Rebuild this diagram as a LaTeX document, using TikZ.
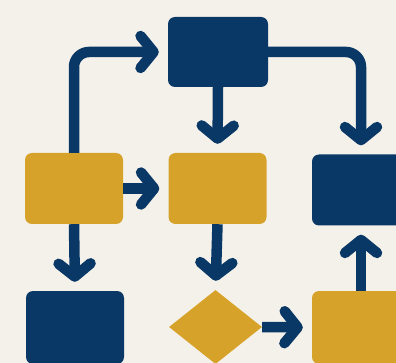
\documentclass[tikz,border=0pt]{standalone}
\usetikzlibrary{arrows.meta,shapes.geometric}
\definecolor{navy}{HTML}{0A3866}
\definecolor{gold}{HTML}{D7A22A}
\definecolor{paper}{HTML}{F4F1EA}
\begin{document}
\begin{tikzpicture}[x=1pt,y=-1pt,
  block/.style={rectangle, rounded corners=7pt, inner sep=0pt,
    minimum width=98pt, minimum height=71pt},
  navyblock/.style={block, fill=navy},
  goldblock/.style={block, fill=gold},
  decision/.style={diamond, fill=gold, inner sep=0pt,
    minimum width=93pt, minimum height=74pt},
  flow/.style={draw=navy, line width=10.5pt, rounded corners=15pt,
    -{Straight Barb[length=13pt, width=32pt, round]}, shorten >=9pt}]
  \useasboundingbox (0,0) rectangle (396,363);
  \clip (0,0) rectangle (396,363);
  \fill[paper] (0,0) rectangle (396,363);

  % blocks
  \node[navyblock, minimum width=100pt, minimum height=70pt] (top) at (218,52) {};
  \node[goldblock] (left) at (74,188.5) {};
  \node[goldblock] (mid) at (217.5,188.5) {};
  \node[navyblock] (right) at (361,190) {};
  \node[navyblock, minimum height=73pt] (botleft) at (75,327.5) {};
  \node[decision] (dec) at (215.5,327) {};
  \node[goldblock, minimum height=73pt] (botright) at (361,327.5) {};

  % connectors
  \draw[flow] (left.north) |- (top.west);
  \draw[flow] (top.south) -- (mid.north);
  \draw[flow] (top.east) -| (right.north);
  \draw[flow] (left.east) -- (mid.west);
  \draw[flow] (left.south) -- (botleft.north);
  \draw[flow] (mid.south) -- (dec.north);
  \draw[flow] (dec.east) -- (botright.west);
  \draw[flow] (botright.north) -- (right.south);
\end{tikzpicture}
\end{document}
